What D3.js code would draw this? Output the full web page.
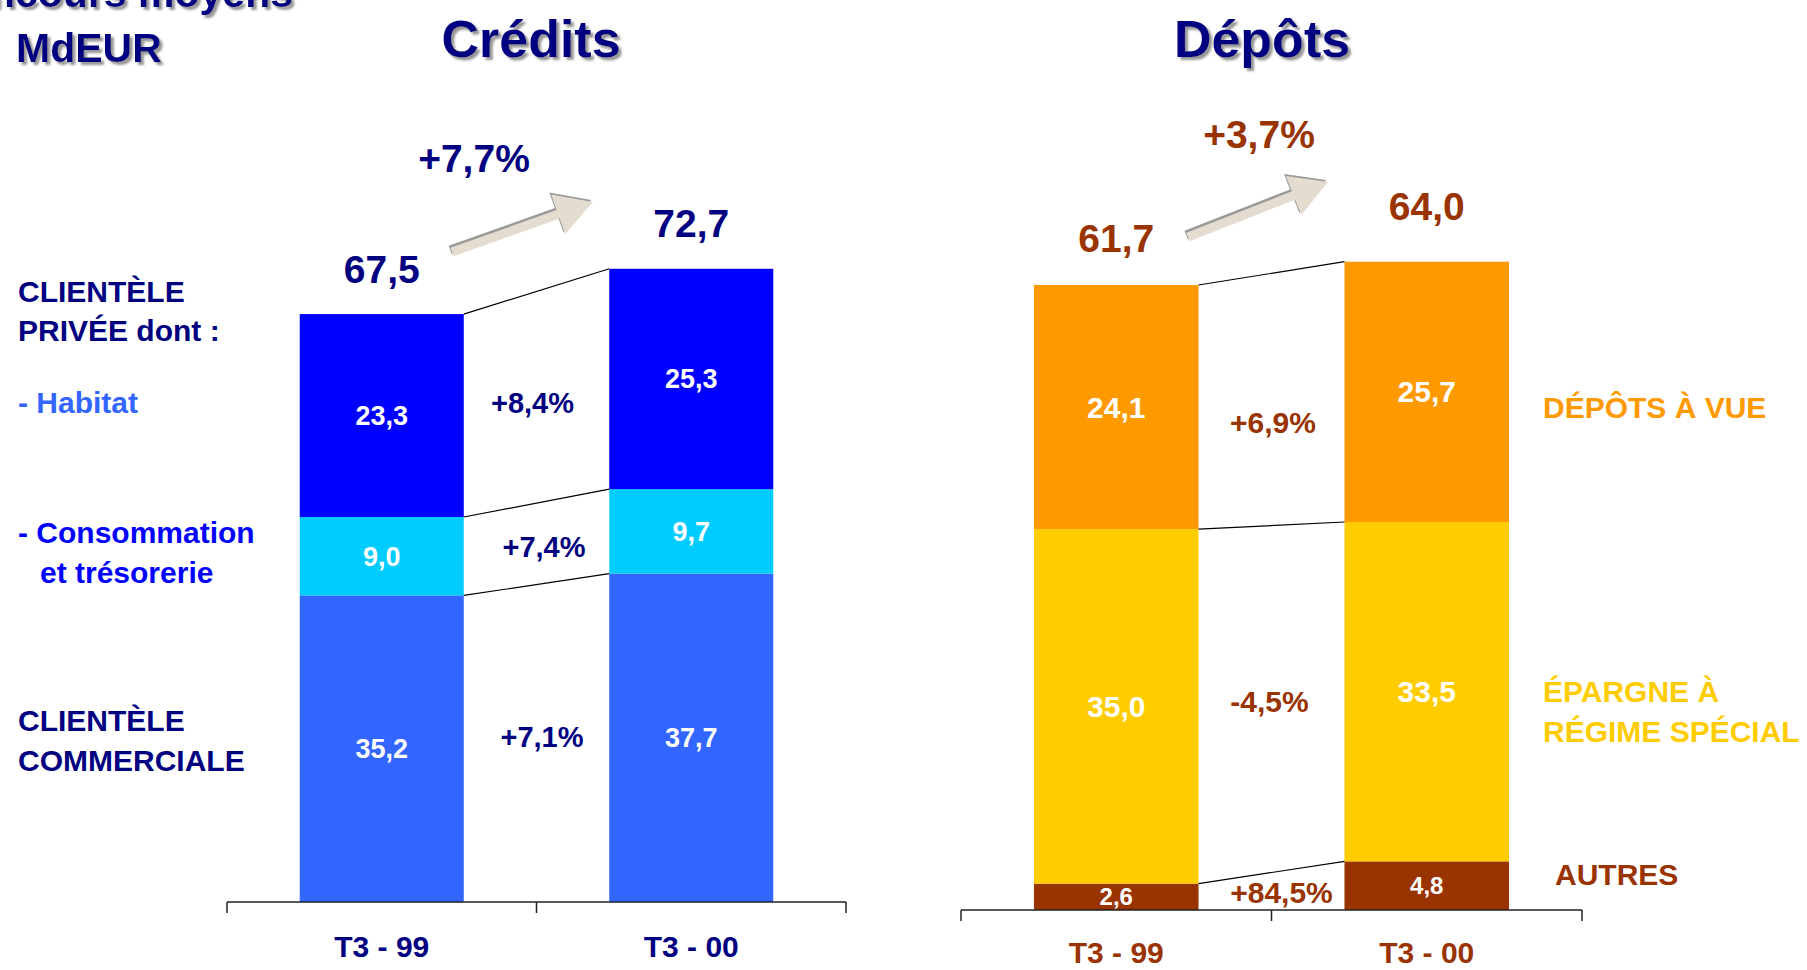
<!DOCTYPE html>
<html><head><meta charset="utf-8">
<script src="https://cdn.jsdelivr.net/npm/d3@7"></script>
<style>
html,body{margin:0;padding:0;background:#fff;}
svg{display:block;}
text{font-family:"Liberation Sans",Arial,Helvetica,sans-serif;font-weight:bold;}
</style></head>
<body>
<svg id="chart" width="1807" height="970"></svg>
<script>
// ---------- DATA ----------
const creditCategories = ["T3 - 99", "T3 - 00"];
const creditSeriesKeys = ["commerciale", "consommation", "habitat"];
const creditCommerciale = [35.2, 37.7];
const creditConsommation = [9.0, 9.7];
const creditHabitat = [23.3, 25.3];
const creditTotals = [67.5, 72.7];
const creditGrowth = ["+7,1%", "+7,4%", "+8,4%"];
const creditTotalGrowth = "+7,7%";

const depotCategories = ["T3 - 99", "T3 - 00"];
const depotSeriesKeys = ["autres", "epargne", "vue"];
const depotAutres = [2.6, 4.8];
const depotEpargne = [35.0, 33.5];
const depotVue = [24.1, 25.7];
const depotTotals = [61.7, 64.0];
const depotGrowth = ["+84,5%", "-4,5%", "+6,9%"];
const depotTotalGrowth = "+3,7%";

// ---------- HELPERS ----------
const fmt = v => d3.format(".1f")(v).replace(".", ",");
const svg = d3.select("#chart");
const defs = svg.append("defs");
const f = defs.append("filter").attr("id","shadow").attr("x","-10%").attr("y","-10%").attr("width","130%").attr("height","140%");
f.append("feDropShadow").attr("dx",3).attr("dy",3).attr("stdDeviation",1.2).attr("flood-color","#8a8a8a").attr("flood-opacity",0.9);

const NAVY = "#000080";
const BROWN = "#993300";

function drawArrow(g, x1, y1, x2, y2) {
  const L = Math.hypot(x2 - x1, y2 - y1);
  const ang = Math.atan2(y2 - y1, x2 - x1) * 180 / Math.PI;
  const hw = 4.5, hl = 37, hh = 21;
  const pts = [[0,-hw],[L-hl,-hw],[L-hl,-hh],[L,0],[L-hl,hh],[L-hl,hw],[0,hw]];
  const line = d3.line();
  const a = g.append("g").attr("transform", `translate(${x1},${y1}) rotate(${ang})`);
  a.append("path").attr("d", line(pts) + "Z").attr("fill", "#9a9a9a")
    .attr("transform", "translate(-1,-2.5)");
  a.append("path").attr("d", line(pts) + "Z").attr("fill", "#e4dccf");
}

function drawPanel(cfg) {
  const g = svg.append("g");
  const rows = cfg.categories.map((c, i) => {
    const r = {cat: c};
    cfg.keys.forEach((k, j) => r[k] = cfg.values[j][i]);
    return r;
  });
  const stacked = d3.stack().keys(cfg.keys)(rows);

  const x = d3.scaleBand().domain(cfg.categories).range(cfg.xRange)
    .paddingInner(0.47).paddingOuter(0.235);
  const y = d3.scaleLinear().domain([0, cfg.yMax]).range([cfg.y0, cfg.y0 - cfg.yMax * cfg.pxPerUnit]);
  const bw = x.bandwidth();

  // bars
  stacked.forEach((s, j) => {
    g.selectAll(null).data(s).enter().append("rect")
      .attr("x", (d, i) => x(cfg.categories[i]))
      .attr("y", d => y(d[1]))
      .attr("width", bw)
      .attr("height", d => y(d[0]) - y(d[1]))
      .attr("fill", cfg.colors[j]);
  });

  // connecting lines
  const c0 = cfg.categories[0], c1 = cfg.categories[1];
  stacked.forEach(s => {
    g.append("line")
      .attr("x1", x(c0) + bw).attr("y1", y(s[0][1]))
      .attr("x2", x(c1)).attr("y2", y(s[1][1]))
      .attr("stroke", "#000").attr("stroke-width", 1.2);
  });

  // segment labels
  stacked.forEach((s, j) => {
    g.selectAll(null).data(s).enter().append("text")
      .attr("x", (d, i) => x(cfg.categories[i]) + bw / 2)
      .attr("y", d => (y(d[0]) + y(d[1])) / 2)
      .attr("dy", "0.35em")
      .attr("text-anchor", "middle")
      .attr("fill", "#fff")
      .attr("font-size", cfg.segFont[j])
      .text((d, i) => fmt(cfg.values[j][i]));
  });

  // growth labels between bars
  const midX = (x(c0) + bw + x(c1)) / 2;
  stacked.forEach((s, j) => {
    const cy = ((y(s[0][0]) + y(s[0][1])) / 2 + (y(s[1][0]) + y(s[1][1])) / 2) / 2;
    g.append("text")
      .attr("x", midX + cfg.growthNudge[j][0])
      .attr("y", cy + cfg.growthNudge[j][1])
      .attr("dy", "0.35em")
      .attr("text-anchor", "middle")
      .attr("fill", cfg.textColor)
      .attr("font-size", cfg.growthFont)
      .text(cfg.growth[j]);
  });

  // totals
  g.selectAll(null).data(cfg.totals).enter().append("text")
    .attr("x", (d, i) => x(cfg.categories[i]) + bw / 2)
    .attr("y", (d, i) => y(d) - cfg.totalOffset[i])
    .attr("text-anchor", "middle")
    .attr("fill", cfg.textColor)
    .attr("font-size", 39)
    .text(d => fmt(d));

  // total growth + arrow
  g.append("text").attr("x", cfg.tgPos[0]).attr("y", cfg.tgPos[1])
    .attr("text-anchor", "middle").attr("fill", cfg.textColor)
    .attr("font-size", 39).text(cfg.totalGrowth);
  drawArrow(g, cfg.arrow[0], cfg.arrow[1], cfg.arrow[2], cfg.arrow[3]);

  // axis
  const axisG = g.append("g").attr("transform", `translate(0,${cfg.y0})`);
  axisG.call(d3.axisBottom(x).tickSize(0).tickPadding(0));
  axisG.select(".domain").remove();
  axisG.selectAll(".tick text")
    .attr("y", cfg.axisLabelDy).attr("dy", 0)
    .attr("font-size", 30).attr("fill", cfg.textColor)
    .style("font-family", "'Liberation Sans',Arial,sans-serif").style("font-weight", "bold");
  const [r0, r1] = x.range();
  const bounds = [r0, (x(c0) + bw + x(c1)) / 2, r1];
  axisG.append("line").attr("x1", r0).attr("x2", r1).attr("y1", 0).attr("y2", 0)
    .attr("stroke", "#222").attr("stroke-width", 1.5);
  bounds.forEach(b => axisG.append("line").attr("x1", b).attr("x2", b).attr("y1", 0).attr("y2", 11)
    .attr("stroke", "#222").attr("stroke-width", 1.5));

  // title
  g.append("text").attr("x", cfg.titlePos[0]).attr("y", cfg.titlePos[1])
    .attr("text-anchor", "middle").attr("fill", NAVY).attr("font-size", 52)
    .attr("filter", "url(#shadow)").text(cfg.title);
  return g;
}

drawPanel({
  title: "Crédits", titlePos: [531, 57],
  categories: creditCategories, keys: creditSeriesKeys,
  values: [creditCommerciale, creditConsommation, creditHabitat],
  totals: creditTotals, growth: creditGrowth, totalGrowth: creditTotalGrowth,
  colors: ["#3366ff", "#00ccff", "#0000ff"],
  xRange: [227, 846], y0: 902, pxPerUnit: 8.71, yMax: 80,
  textColor: NAVY, segFont: [27, 27, 27], growthFont: 29,
  growthNudge: [[5.5, -6], [7.5, 3], [-4, 6]],
  totalOffset: [31, 32],
  tgPos: [474, 172], arrow: [452, 252, 593, 202],
  axisLabelDy: 55
});

drawPanel({
  title: "Dépôts", titlePos: [1262, 57],
  categories: depotCategories, keys: depotSeriesKeys,
  values: [depotAutres, depotEpargne, depotVue],
  totals: depotTotals, growth: depotGrowth, totalGrowth: depotTotalGrowth,
  colors: ["#993300", "#ffcc00", "#ff9900"],
  xRange: [961, 1582], y0: 910, pxPerUnit: 10.13, yMax: 70,
  textColor: BROWN, segFont: [24, 30, 30], growthFont: 30,
  growthNudge: [[10, 1], [-2, 2.5], [1.5, 23]],
  totalOffset: [33, 42],
  tgPos: [1259, 148], arrow: [1188, 237, 1328, 182],
  axisLabelDy: 53
});

// ---------- side labels ----------
const side = svg.append("g").attr("font-size", 30);
const leftLabels = [
  {t: "CLIENTÈLE", x: 18, y: 302, c: NAVY},
  {t: "PRIVÉE dont :", x: 18, y: 341, c: NAVY},
  {t: "- Habitat", x: 18, y: 413, c: "#3366ff"},
  {t: "- Consommation", x: 18, y: 543, c: "#0000ff"},
  {t: "et trésorerie", x: 40, y: 583, c: "#0000ff"},
  {t: "CLIENTÈLE", x: 18, y: 731, c: NAVY},
  {t: "COMMERCIALE", x: 18, y: 771, c: NAVY},
  {t: "DÉPÔTS À VUE", x: 1543, y: 418, c: "#ff9900"},
  {t: "ÉPARGNE À", x: 1543, y: 702, c: "#ffcc00"},
  {t: "RÉGIME SPÉCIAL", x: 1543, y: 742, c: "#ffcc00"},
  {t: "AUTRES", x: 1555, y: 885, c: BROWN}
];
side.selectAll(null).data(leftLabels).enter().append("text")
  .attr("x", d => d.x).attr("y", d => d.y).attr("fill", d => d.c).text(d => d.t);

// unit label (top-left, partly cut as in the original)
svg.append("text").attr("x", 293).attr("y", 7).attr("text-anchor", "end")
  .attr("font-size", 41).attr("fill", NAVY).attr("filter", "url(#shadow)").text("Encours moyens");
svg.append("text").attr("x", 16).attr("y", 62)
  .attr("font-size", 41).attr("fill", NAVY).attr("filter", "url(#shadow)").text("MdEUR");
</script>
</body></html>
